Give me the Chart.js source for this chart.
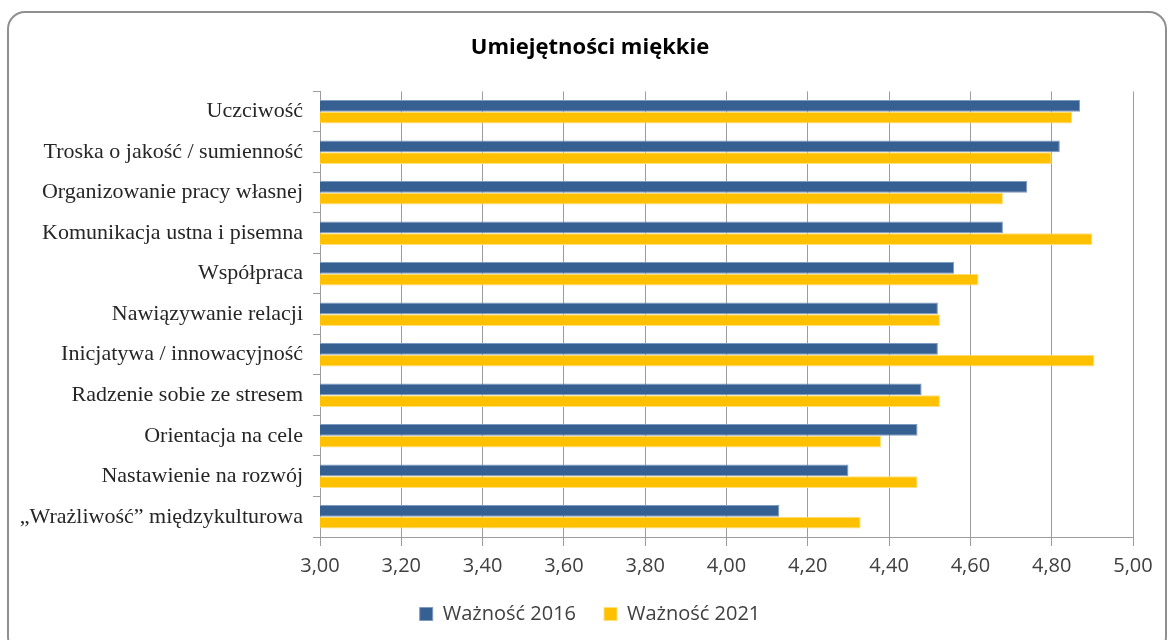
<!DOCTYPE html>
<html>
<head>
<meta charset="utf-8">
<script src="https://cdn.jsdelivr.net/npm/chart.js@4/dist/chart.umd.min.js"></script>
<style>
  html, body { margin: 0; padding: 0; background: #fff; overflow: hidden; }
  #frame { position: absolute; left: 7px; top: 11px; width: 1156px; height: 640px;
           border: 2px solid #8f8f8f; border-radius: 18px; }
  #wrap { position: absolute; left: 0; top: 0; width: 1168px; height: 640px; }
</style>
</head>
<body>
<div id="frame"></div>
<div id="wrap"><canvas id="barChart" width="1168" height="640"></canvas></div>
<script>
// categories (top to bottom)
var skills = ["Uczciwość", "Troska o jakość / sumienność", "Organizowanie pracy własnej",
  "Komunikacja ustna i pisemna", "Współpraca", "Nawiązywanie relacji",
  "Inicjatywa / innowacyjność", "Radzenie sobie ze stresem", "Orientacja na cele",
  "Nastawienie na rozwój", "„Wrażliwość” międzykulturowa"];

// series
var waznosc2016 = [4.87, 4.82, 4.74, 4.68, 4.56, 4.52, 4.52, 4.48, 4.47, 4.30, 4.13];
var waznosc2021 = [4.85, 4.80, 4.68, 4.90, 4.62, 4.525, 4.905, 4.525, 4.38, 4.47, 4.33];

// x axis range
var xMin = 3.0;
var xMax = 5.0;
var xStep = 0.2;

var ctx = document.getElementById("barChart").getContext('2d');
var myBarChart = new Chart(ctx, {
  type: 'bar',
  data: {
    labels: skills,
    datasets: [{
      label: "Ważność 2016",
      data: waznosc2016,
      backgroundColor: '#376092',
      borderColor: '#7f9cc0',
      borderWidth: 1,
      borderSkipped: 'start'
    },
    {
      label: "Ważność 2021",
      data: waznosc2021,
      backgroundColor: '#FFC000',
      borderColor: '#ffe07a',
      borderWidth: 1,
      borderSkipped: 'start'
    }]
  },
  options: {
    indexAxis: 'y',
    responsive: false,
    animation: false,
    categoryPercentage: 0.58,
    barPercentage: 1.0,
    layout: { padding: { left: 12, right: 0, top: 14, bottom: 6 } },
    scales: {
      x: {
        min: xMin,
        max: xMax,
        grid: { color: '#9c9c9c', lineWidth: 1, tickLength: 9 },
        border: { color: '#9c9c9c' },
        ticks: {
          stepSize: xStep,
          padding: 8,
          color: '#404040',
          font: { family: "'Open Sans'", size: 20 },
          callback: function (v) { return v.toFixed(2).replace('.', ','); }
        },
        afterFit: function (scale) {
          scale.paddingRight = 35;
          scale.height = scale.height - 10;
        }
      },
      y: {
        grid: { drawOnChartArea: false, color: '#9c9c9c', tickLength: 7 },
        border: { color: '#9c9c9c' },
        ticks: {
          padding: 10,
          color: '#262626',
          font: { family: "'Liberation Serif'", size: 22 }
        },
        afterFit: function (scale) { scale.width = 308; }
      }
    },
    plugins: {
      title: {
        display: true,
        text: 'Umiejętności miękkie',
        color: '#000',
        font: { family: "'Open Sans'", size: 22, weight: 'bold' },
        padding: { top: 21, bottom: 30 }
      },
      legend: {
        position: 'bottom',
        labels: {
          boxWidth: 13,
          boxHeight: 13,
          padding: 28,
          color: '#404040',
          font: { family: "'Open Sans'", size: 20 }
        }
      },
      tooltip: { enabled: false }
    }
  }
});
</script>
</body>
</html>
